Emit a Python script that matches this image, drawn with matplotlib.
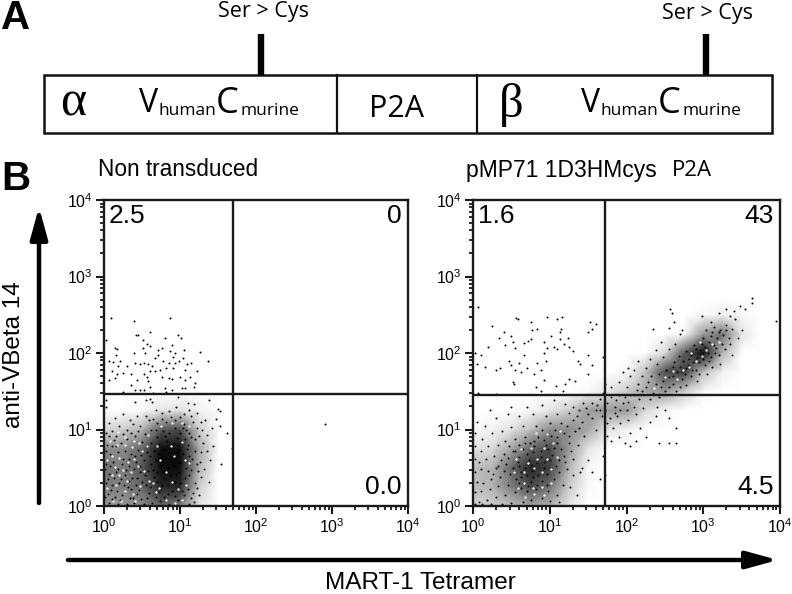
import numpy as np
import matplotlib
matplotlib.use('Agg')
import matplotlib.pyplot as plt
from matplotlib.patches import Rectangle
from matplotlib.ticker import LogLocator, NullFormatter

plt.rcParams['font.family'] = ['Liberation Sans', 'DejaVu Sans']
plt.rcParams['mathtext.fontset'] = 'custom'
plt.rcParams['mathtext.rm'] = 'Liberation Sans'

# all points are log10(x), log10(y)
left_upper = [(.09,2.46),(.39,2.42),(.87,2.46),(.60,2.28),(.42,2.24),(.45,2.23),(.98,2.23),(1.01,2.19),(.80,2.19),
    (.51,2.17),(.03,2.17),(.57,2.12),(.61,2.09),(.51,2.06),(.17,2.05),(.14,2.06),(.76,2.06),(.89,2.10),(.71,2.04),
    (.87,2.02),(1.05,2.04),(1.26,2.01),(.93,2.0),(.39,2.0),(.16,1.97),(.54,2.0),(.71,1.97),(.67,1.93),(.91,1.95),
    (1.04,1.93),(1.15,1.87),(1.37,1.90),(.06,1.89),(.12,1.88),(.21,1.89),(.41,1.87),(.47,1.85),(.52,1.87),(.58,1.85),
    (.63,1.83),(.78,1.89),(.85,1.87),(.93,1.87),(.99,1.89),(1.09,1.85),(.19,1.83),(.3,1.83),(.67,1.76),(.74,1.78),
    (.82,1.8),(.91,1.8),(1.07,1.78),(1.22,1.76),(.1,1.76),(.17,1.72),(.06,1.65),(.14,1.67),(.25,1.74),(.36,1.73),
    (.52,1.73),(.56,1.69),(.61,1.76),(.76,1.69),(.85,1.67),(.89,1.66),(1.0,1.69),(1.07,1.65),(1.13,1.68),(1.2,1.61),
    (.43,1.65),(.36,1.58),(.58,1.63),(.61,1.56),(.47,1.52),(.41,1.51),(.25,1.49),(.52,1.52),(.8,1.54),(.82,1.49),
    (.89,1.52),(1.02,1.54),(1.07,1.54),(1.18,1.56),(.65,1.48)]
left_lower = [(.03,1.38),(.02,1.3),(.41,1.36),(.55,1.38),(.6,1.4),(.63,1.36),(.98,1.42),(1.1,1.35),(1.18,1.33),(1.38,1.39),
    (1.5,1.27),(1.53,1.24),(1.48,1.14),(1.53,1.04),(1.62,.96),(1.68,.76),(1.54,.55),(1.44,.78),(1.4,.6),(1.32,.48),
    (1.38,.32),(1.25,.15),(1.22,.24),(1.18,.05),(1.12,.02),(1.29,1.0),(1.33,1.13),(1.22,1.22),(1.12,1.25),(1.05,1.2),
    (.95,1.29),(.86,1.24),(.76,1.22),(.68,1.25),(.55,1.18),(.44,1.17),(.34,1.13),(.25,1.2),(.15,1.15),(.07,1.08),
    (.02,.95),(.1,.98),(.2,1.04),(.3,1.0),(.38,1.07),(.48,1.05),(.59,1.12),(.7,1.08),(.82,1.1),(.94,1.12),(1.05,1.07),
    (1.17,1.1),(1.25,.92),(1.3,.83),(1.2,.87),(1.27,.7),(1.35,.72),(1.22,.55),(1.28,.38),(1.2,.3),(1.12,.4),(1.16,.62),
    (.04,.8),(.13,.86),(.22,.83),(.3,.88),(.41,.92),(.5,.84),(.08,.68),(.18,.7),(.27,.72),(.36,.68),(.45,.73),(.03,.55),
    (.12,.58),(.24,.55),(.33,.52),(.42,.58),(.52,.6),(.06,.42),(.16,.44),(.28,.4),(.37,.37),(.48,.44),(.02,.3),(.11,.28),
    (.2,.3),(.31,.25),(.42,.28),(.5,.32),(.05,.16),(.14,.12),(.24,.14),(.34,.1),(.44,.16),(.56,.1),(.07,.04),(.19,.03),
    (.3,.02),(.4,.04),(.52,.03),(.63,.04),(.74,.06),(.86,.03),(.97,.08),(1.05,.14),(.6,.25),(.72,.18),(.9,.2),(1.0,.3),
    (.66,.38),(.8,.35),(.95,.42),(1.08,.5),(.62,.55),(.74,.52),(.88,.6),(1.04,.68),(.66,.72),(.8,.75),(.92,.82),(1.1,.8),
    (.7,.9),(.86,.95),(1.0,.95),(1.12,.95),
    (.01,.12),(.09,.21),(.17,.19),(.26,.27),(.36,.22),(.46,.21),(.55,.27),(.01,.48),(.08,.52),(.19,.49),(.29,.47),(.39,.48),
    (.47,.52),(.02,.72),(.1,.78),(.16,.78),(.25,.62),(.33,.62),(.41,.65),(.49,.67),(.56,.7),(.06,.92),(.16,.92),(.25,.94),
    (.35,.96),(.45,.98),(.54,.94),(.62,1.0),(.05,.35),(.13,.36),(.23,.35),(.33,.33),(.43,.36),(.54,.4),(.1,.09),(.21,.08),
    (.38,.11),(.49,.09),(.59,.17),(.68,.12),(.79,.12),(.84,.16),(.93,.13),(1.02,.2),(1.1,.22),(1.17,.17),(1.14,.11),
    (.58,.46),(.65,.47),(.7,.32),(.76,.27),(.84,.28),(.94,.31),(1.06,.36),(1.15,.47),(.69,.6),(.78,.64),(.84,.5),(.92,.52),
    (1.0,.58),(1.12,.66),(1.2,.72),(.62,.82),(.73,.81),(.83,.85),(.98,.8),(1.06,.87),(1.15,.9),(.77,.98),(.93,1.02),(1.08,1.0),
    (1.22,1.02),(1.28,1.1),(.64,1.14),(.76,1.14),(.88,1.16),(1.0,1.16),(1.14,1.17),(1.36,.93),(1.42,1.02),(1.26,.58),(1.24,.46),
    (.7,.44),(.77,.44),(.87,.41),(.99,.45),(.61,.65),(.71,.68),(.86,.7),(.96,.7),(1.09,.74),(.68,.99),(.8,.91),(.96,.89),(1.04,1.02)]
left_lr_point = [(2.91,1.07)]

# pale gaps inside the left cloud
left_gaps = [(.04,.24),(.12,.06),(.16,.27),(.23,.07),(.27,.2),(.38,.16),(.41,.07),(.47,.26),(.3,.33),(.2,.41),(.1,.41),(.04,.6),
    (.15,.51),(.25,.47),(.36,.44),(.45,.52),(.52,.46),(.1,.66),(.2,.63),(.31,.58),(.39,.62),(.5,.72),(.08,.85),(.17,.8),(.28,.8),
    (.37,.77),(.46,.82),(.56,.78),(.18,.97),(.27,.9),(.4,.85),(.58,.93),(.65,.3),(.81,.08),(.94,.04),(1.03,.08),(.59,.33),(.72,.24),
    (.68,.18),(.9,.32),(.98,.22),(1.08,.28),(.82,.45),(.74,.6),(.92,.66),(1.06,.6),(1.12,.56),(.7,.78),(.88,.78),(1.02,.84),(.75,1.05),
    (.9,1.08),(1.02,1.08),(1.12,1.05)]

right_upper = [(.06,2.6),(.56,2.46),(.59,2.45),(.96,2.47),(1.1,2.44),(1.16,2.47),(1.52,2.4),(1.6,2.38),(.75,2.41),(.25,2.35),
    (1.15,2.32),(.77,2.3),(.84,2.32),(1.5,2.28),(1.55,2.31),(.4,2.27),(.34,2.2),(.5,2.22),(.52,2.15),(1.02,2.22),(1.14,2.27),
    (1.24,2.2),(.72,2.16),(.76,2.18),(.66,2.13),(.92,2.15),(1.13,2.18),(1.18,2.12),(.2,2.08),(.42,2.1),(.55,2.06),(.97,2.07),
    (1.05,2.08),(1.1,2.05),(1.25,2.08),(.02,2.0),(.1,1.98),(.66,1.98),(.93,2.0),(1.3,2.02),(1.5,1.98),(.05,1.85),(.15,1.82),
    (.47,1.9),(.5,1.84),(.6,1.87),(.7,1.8),(.83,1.87),(.95,1.9),(1.37,1.9),(1.4,1.85),(1.55,1.84),(1.7,1.95),(.3,1.78),(.35,1.8),
    (.55,1.78),(.62,1.75),(.8,1.72),(.88,1.78),(.92,1.65),(1.25,1.66),(1.33,1.63),(1.5,1.72),(.52,1.62),(.53,1.6),(.82,1.55),
    (1.08,1.57),(1.2,1.6),(.06,1.48),(.3,1.46),(.88,1.5),(1.17,1.5)]
right_lower = [(.22,1.25),(.5,1.3),(.7,1.3),(.9,1.32),(1.05,1.38),(1.2,1.33),(.05,1.1),(.15,1.05),(.3,1.15),(.45,1.2),(.6,1.18),
    (.78,1.2),(.95,1.18),(1.1,1.2),(1.25,1.22),(1.38,1.25),(1.5,1.2),(.02,.95),(.12,.88),(.25,.95),(.38,.98),(.5,1.03),(.65,1.05),
    (.82,1.05),(1.0,1.08),(1.15,1.08),(1.3,1.12),(1.42,1.1),(1.55,1.15),(1.6,1.0),(.03,.78),(.1,.72),(.2,.78),(.32,.8),(.42,.85),
    (.55,.88),(.68,.9),(.85,.9),(1.02,.92),(1.18,.95),(1.33,.98),(1.45,.92),(.02,.62),(.08,.58),(.17,.62),(.28,.65),(.4,.68),
    (.52,.72),(.65,.74),(.8,.78),(.95,.8),(1.1,.82),(1.25,.82),(1.37,.8),(.03,.45),(.1,.48),(.2,.46),(.33,.52),(.43,.55),(.58,.58),
    (.73,.6),(.88,.64),(1.03,.67),(1.18,.66),(1.3,.62),(.05,.32),(.13,.3),(.24,.35),(.35,.38),(.48,.42),(.62,.44),(.77,.46),
    (.92,.5),(1.08,.52),(1.22,.48),(1.3,.4),(1.4,.45),(.03,.18),(.11,.2),(.22,.22),(.33,.26),(.45,.28),(.6,.3),(.75,.32),(.9,.33),
    (1.05,.35),(1.17,.28),(.08,.05),(.18,.08),(.3,.12),(.42,.15),(.55,.18),(.7,.2),(.82,.22),(.98,.2),(1.1,.15),(1.27,.25),(1.36,.15),
    (.02,.03),(.12,.03),(.24,.03),(.38,.03),(.5,.04),(.65,.05),(.75,.08),(.9,.1),(1.0,.06),(1.12,.05),(1.42,.5),(1.5,.6),(1.55,.45),
    (1.65,.35),(1.7,.65),(1.72,.4),
    (.56,.35),(.63,.38),(.7,.4),(.78,.38),(.85,.4),(.96,.42),(.52,.5),(.6,.52),(.68,.5),(.76,.54),(.84,.56),(.92,.58),(1.0,.6),(.6,.64),
    (.7,.68),(.78,.7),(.88,.72),(.98,.74),(1.06,.76),(.74,.83),(.92,.86),(1.1,.9),(1.25,.92),(1.38,1.02),(.9,1.0),(1.07,1.0),(1.22,1.05),
    (1.35,1.18),(1.47,1.28),(1.6,1.25),(1.55,1.35),(1.65,1.25),(1.43,1.35),(1.3,1.3),(.62,.24),(.72,.26),(.84,.28),(.96,.27),(1.12,.44),
    (.3,.5),(.37,.6),(.46,.63),(.26,.42),(.4,.46),(.55,.72),(.47,.78),(.6,.8),(.68,.82),(.8,.85),(1.15,.74),(1.28,.72),(1.2,.58),(1.12,.6)]
right_diag = [(1.75,1.35),(1.65,1.4),(1.8,1.42),(1.72,1.25),(1.85,1.3),(1.95,1.35),(1.78,1.15),(1.88,1.18),(2.0,1.25),(2.1,1.3),
    (1.82,1.02),(1.92,1.08),(2.02,1.12),(2.12,1.2),(2.22,1.28),(1.75,.92),(1.9,.9),(2.05,.95),(2.18,1.02),(2.3,1.1),(2.38,1.18),
    (1.8,.85),(1.98,.82),(2.12,.85),(2.26,.9),(2.05,.78),(2.42,.82),(2.55,.82),(2.65,.83),(2.4,1.3),(2.5,1.25),(2.55,1.15),(2.65,1.02),
    (1.72,1.6),(1.8,1.55),(1.9,1.62),(2.0,1.55),(2.05,1.7),(2.15,1.6),(2.1,1.78),(2.2,1.7),(2.02,1.8),(1.95,1.75),(2.15,1.9),(2.25,1.8),
    (2.3,1.92),(2.4,1.85),(2.38,2.04),(2.47,1.95),(2.45,2.15),(2.55,2.05),(2.63,2.12),(2.7,2.25),(2.56,2.33),(2.35,2.32),(2.57,2.58),
    (2.59,2.52),(2.62,2.4),(2.72,2.3),(2.98,2.48),(3.1,2.4),(3.2,2.52),(3.3,2.58),(3.4,2.55),(3.48,2.62),(3.55,2.58),(3.63,2.72),
    (3.63,2.66),(3.95,2.42),(3.5,2.3),(3.42,2.44),(3.35,2.48),(3.3,2.36),(3.45,2.2),(3.35,2.12),(3.38,1.97),(3.22,1.86),(3.05,1.72),
    (2.92,1.64),(2.78,1.58),(2.65,1.5),(2.72,1.66),(2.85,1.78),(2.95,1.88),(2.88,2.1),(2.78,2.03),(2.68,1.96),(3.0,2.2),(3.12,2.28),
    (2.55,1.68),(2.45,1.55),(2.35,1.48),(2.2,1.5),(2.1,1.45),(2.28,1.62),(2.42,1.72),(2.6,1.82),(3.15,2.0),(3.25,2.12),(3.08,1.9),
    (3.22,2.3),(2.3,1.4),(2.5,1.5),(2.6,1.6),(2.05,1.45),(1.9,1.45),(2.82,1.92),(2.98,1.98),
    (2.6,1.7),(2.66,1.75),(2.7,1.82),(2.76,1.72),(2.8,1.84),(2.86,1.88),(2.9,1.78),(2.92,1.94),(2.96,2.04),(3.0,1.92),(3.02,2.08),(3.06,2.0),
    (3.08,2.14),(3.1,2.22),(3.14,2.1),(3.18,2.2),(3.2,2.28),(3.26,2.24),(3.3,2.3),(2.74,1.9),(2.62,1.88),(2.52,1.78),(2.48,1.64),(2.38,1.6),
    (2.32,1.7),(2.26,1.55),(2.14,1.52),(1.98,1.42),(1.86,1.38),(1.7,1.48),(1.62,1.32),(1.68,1.18),(1.74,1.08),(1.85,1.22),(1.92,1.26),(2.02,1.36),
    (2.16,1.4),(2.42,1.42),(2.84,1.7),(2.94,1.72),(3.12,1.82),(3.2,1.98),(3.28,2.05),(3.34,2.2),(3.38,2.32),(2.84,1.98),(2.9,2.05),(2.98,2.12),
    (3.04,2.3),(3.14,2.34),(2.7,1.56),(2.56,1.56),(2.78,1.8),(3.02,1.84),(3.1,1.95),(3.16,2.06)]

# pale gaps inside the right clouds
right_gaps = [(.68,.12),(.8,.16),(.92,.14),(.58,.24),(.66,.3),(.78,.24),(.9,.25),(1.02,.3),(.54,.44),(.66,.44),(.8,.5),(.9,.44),(1.02,.48),
    (.56,.62),(.72,.56),(.84,.62),(.96,.62),(1.1,.64),(.62,.74),(.76,.76),(.92,.76),(1.04,.82),(.82,.96),(.96,.94),(1.14,.98),(2.66,1.66),
    (2.74,1.78),(2.82,1.82),(2.9,1.9),(2.98,1.96),(3.04,2.04),(3.12,2.12),(3.2,2.14),(2.6,1.76),(2.5,1.68),(2.36,1.54),(2.24,1.46),(2.84,2.0),(2.96,2.14)]

# grey level of the dense clouds on a log10 grid, 0 is white
left_grid_x = [0, .25, .5, .75, 1, 1.25, 1.5]
left_grid_y = [0, .25, .5, .75, 1, 1.25, 1.5]
left_grid = [[.4, .4, .45, .6, .5, .1, 0],
             [.5, .5, .6, .85, .85, .2, 0],
             [.55, .5, .65, .95, .95, .3, 0],
             [.45, .45, .6, .95, .95, .35, .02],
             [.15, .2, .3, .65, .7, .2, .02],
             [0, 0, .02, .1, .12, .05, .01],
             [0, 0, 0, 0, 0, 0, 0]]

right_grid_x = [0, .25, .5, .75, 1, 1.25, 1.5, 1.75, 2, 2.25, 2.5, 2.75, 3, 3.25, 3.5, 3.75]
right_grid_y = [0, .25, .5, .75, 1, 1.25, 1.5, 1.75, 2, 2.25, 2.5, 2.75]
right_grid = [[.15, .2, .25, .35, .3, .1, 0, 0, 0, 0, 0, 0, 0, 0, 0, 0],
              [.25, .3, .5, .7, .55, .2, .02, 0, 0, 0, 0, 0, 0, 0, 0, 0],
              [.25, .3, .6, .85, .75, .3, .03, 0, 0, 0, 0, 0, 0, 0, 0, 0],
              [.1, .15, .35, .6, .7, .4, .1, 0, 0, 0, 0, 0, 0, 0, 0, 0],
              [.03, .05, .12, .25, .45, .45, .35, .1, .05, 0, 0, 0, 0, 0, 0, 0],
              [0, 0, .01, .03, .1, .2, .4, .4, .4, .15, .03, 0, 0, 0, 0, 0],
              [0, 0, 0, 0, 0, 0, .02, .1, .2, .35, .4, .2, .03, 0, 0, 0],
              [0, 0, 0, 0, 0, 0, 0, 0, .02, .25, .7, .75, .25, .05, 0, 0],
              [0, 0, 0, 0, 0, 0, 0, 0, 0, .01, .15, .65, .95, .3, 0, 0],
              [0, 0, 0, 0, 0, 0, 0, 0, 0, 0, 0, .02, .4, .55, .1, 0],
              [0, 0, 0, 0, 0, 0, 0, 0, 0, 0, 0, 0, .02, .05, .03, 0],
              [0, 0, 0, 0, 0, 0, 0, 0, 0, 0, 0, 0, 0, 0, 0, 0]]

left_gate = (50, 29)
right_gate = (52, 28)
left_stats = ['2.5', '0', '0.0']
right_stats = ['1.6', '43', '4.5']
decades = [1, 10, 100, 1000, 10000]

W, H = 792, 594
fig = plt.figure(figsize=(W / 100, H / 100), dpi=100)


def px_axes(x0, y0, x1, y1):
    return fig.add_axes([x0 / W, 1 - y1 / H, (x1 - x0) / W, (y1 - y0) / H])


def flow_panel(ax, grid_x, grid_y, grid, clouds, gaps, gate, stats):
    ax.set_xscale('log')
    ax.set_yscale('log')
    ax.pcolormesh(np.power(10.0, grid_x), np.power(10.0, grid_y), np.array(grid),
                  cmap='gray_r', vmin=0, vmax=1, shading='gouraud', rasterized=True)
    for pts in clouds:
        pts = np.array(pts)
        ax.scatter(10 ** pts[:, 0], 10 ** pts[:, 1], s=2.0, c='black', linewidths=0, zorder=3)
    pts = np.array(gaps)
    ax.scatter(10 ** pts[:, 0], 10 ** pts[:, 1], s=2.6, c='white', linewidths=0, zorder=3)
    ax.axvline(gate[0], color='#1a1a1a', lw=1.7, zorder=4)
    ax.axhline(gate[1], color='#1a1a1a', lw=1.7, zorder=4)
    ax.set_xlim(1, 10000)
    ax.set_ylim(1, 10000)
    ax.set_xticks(decades)
    ax.set_yticks(decades)
    minor = LogLocator(base=10, subs=np.arange(2, 10), numticks=10)
    ax.xaxis.set_minor_locator(minor)
    ax.yaxis.set_minor_locator(minor)
    ax.xaxis.set_minor_formatter(NullFormatter())
    ax.yaxis.set_minor_formatter(NullFormatter())
    ax.tick_params(which='major', length=6, width=1.5, labelsize=11.5, pad=2, color='#1a1a1a')
    ax.tick_params(which='minor', length=3, width=1.3, color='#1a1a1a')
    for s in ax.spines.values():
        s.set_linewidth(1.7)
        s.set_color('#1a1a1a')
    ax.text(.016, .948, stats[0], transform=ax.transAxes, fontsize=19, va='center', ha='left', zorder=5)
    ax.text(.98, .948, stats[1], transform=ax.transAxes, fontsize=19, va='center', ha='right', zorder=5)
    ax.text(.98, .062, stats[2], transform=ax.transAxes, fontsize=19, va='center', ha='right', zorder=5)


ax1 = px_axes(104, 200, 408, 506)
flow_panel(ax1, left_grid_x, left_grid_y, left_grid, [left_upper, left_lower, left_lr_point], left_gaps, left_gate, left_stats)
ax2 = px_axes(473, 200, 780, 506)
flow_panel(ax2, right_grid_x, right_grid_y, right_grid, [right_upper, right_lower, right_diag], right_gaps, right_gate, right_stats)

# overlay in image pixels for the construct diagram, arrows and labels
ov = fig.add_axes([0, 0, 1, 1], zorder=10)
ov.set_xlim(0, W)
ov.set_ylim(H, 0)
ov.axis('off')
ov.patch.set_alpha(0)

ov.add_patch(Rectangle((44, 75), 728, 58, fill=False, ec='#111111', lw=1.8))
ov.plot([337, 337], [75, 133], color='#111111', lw=1.6)
ov.plot([477, 477], [75, 133], color='#111111', lw=1.6)
ov.plot([261, 261], [34, 75], color='black', lw=4.6, solid_capstyle='butt')
ov.plot([706, 706], [34, 75], color='black', lw=4.6, solid_capstyle='butt')

ov.text(264, 12, 'Ser > Cys', family='Open Sans', fontsize=15.5, ha='center', va='center')
ov.text(708, 13, 'Ser > Cys', family='Open Sans', fontsize=15.5, ha='center', va='center')
ov.text(1, 18, 'A', fontsize=29, fontweight='bold', ha='left', va='center')
ov.text(1, 179, 'B', fontsize=29, fontweight='bold', ha='left', va='center')
ov.text(73, 103, '\u03b1', family='Liberation Serif', fontsize=36, ha='center', va='center')
ov.text(511, 105, '\u03b2', family='Liberation Serif', fontsize=35, ha='center', va='center')
ov.text(397, 109, 'P2A', family='Open Sans', fontsize=22, ha='center', va='center')

for x0 in (139, 581):
    ov.text(x0, 104, 'V', family='Open Sans', fontsize=23, ha='left', va='center')
    ov.text(x0 + 20, 111, 'human', family='Open Sans', fontsize=12.5, ha='left', va='center')
    ov.text(x0 + 77, 104, 'C', family='Open Sans', fontsize=26, ha='left', va='center')
    ov.text(x0 + 102, 111, 'murine', family='Open Sans', fontsize=12.5, ha='left', va='center')

ov.text(98, 169, 'Non transduced', fontsize=16.3, ha='left', va='center')
ov.text(466, 170, 'pMP71 1D3HMcys', fontsize=16.5, ha='left', va='center')
ov.text(672, 171, 'P2A', family='Open Sans', fontsize=16, ha='left', va='center')
ov.text(14, 355, 'anti-VBeta 14', fontsize=17.5, rotation=90, ha='center', va='center')
ov.text(420, 583, 'MART-1 Tetramer', fontsize=17.6, ha='center', va='center')

arrow = dict(arrowstyle='-|>,head_length=1.9,head_width=0.52', mutation_scale=10, lw=3.2, color='black',
             shrinkA=0, shrinkB=0)
ov.annotate('', xy=(39, 207), xytext=(39, 503), arrowprops=arrow)
ov.annotate('', xy=(778, 560), xytext=(68, 560), arrowprops=arrow)

fig.savefig('out.png', dpi=100)
